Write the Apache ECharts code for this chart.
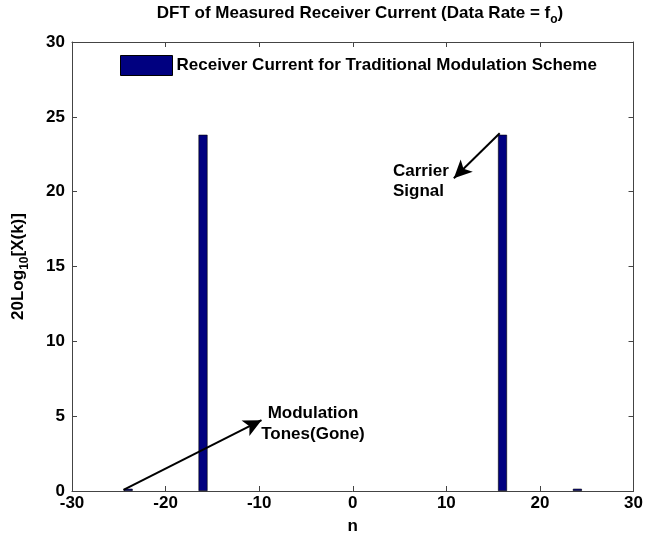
<!DOCTYPE html>
<html>
<head>
<meta charset="utf-8">
<script src="https://cdn.jsdelivr.net/npm/echarts@6/dist/echarts.min.js"></script>
<style>html,body{margin:0;padding:0;background:#fff;}#c{width:646px;height:540px;}</style>
</head>
<body>
<div id="c"></div>
<script>
// ---- data ----
const nValues = [-24, -16, 16, 24];
const magnitudes = [0.15, 23.8, 23.8, 0.15];
const xTicks = [-30, -20, -10, 0, 10, 20, 30];
const yTicks = [0, 5, 10, 15, 20, 25, 30];
const seriesName = 'Receiver Current for Traditional Modulation Scheme';
// annotation positions (data coordinates)
const carrierArrow = [[15.7, 23.9], [10.8, 20.9]];
const modulationArrow = [[-24.5, 0.07], [-9.75, 4.73]];
const carrierTextPos = [4.3, 20.7];
const modulationTextPos = [-4.25, 4.52];

const FONT = 'Liberation Sans';
const FS = 17;
const chart = echarts.init(document.getElementById('c'));
const axisLineStyle = { color: '#444', width: 1 };
const tickCommon = { show: true, inside: true, length: 5, lineStyle: axisLineStyle };
const labelStyle = { color: '#000', fontFamily: FONT, fontWeight: 'bold', fontSize: FS };
const richSub = {
  a: { fontFamily: FONT, fontWeight: 'bold', fontSize: FS, color: '#000', verticalAlign: 'top', lineHeight: 21 },
  s: { fontFamily: FONT, fontWeight: 'bold', fontSize: 12, color: '#000', verticalAlign: 'bottom', lineHeight: 21 }
};
const annLabel = { color: '#000', fontFamily: FONT, fontWeight: 'bold', fontSize: FS, opacity: 1 };

chart.setOption({
  backgroundColor: '#fff',
  animation: false,
  title: {
    text: '{a|DFT of Measured Receiver Current (Data Rate = f}{s|o}{a|)}',
    left: 355, textAlign: 'center', top: 0,
    textStyle: { rich: richSub }
  },
  legend: {
    data: [seriesName],
    left: 115, top: 50,
    itemWidth: 52, itemHeight: 20,
    icon: 'rect',
    itemStyle: { color: '#000080', borderColor: '#000', borderWidth: 1 },
    textStyle: { color: '#000', fontFamily: FONT, fontWeight: 'bold', fontSize: FS, padding: [0, 0, 0, -1] }
  },
  grid: { left: 72, right: 8, top: 42, bottom: 48, containLabel: false },
  xAxis: [{
    type: 'value', min: xTicks[0], max: xTicks[xTicks.length - 1], interval: 10,
    position: 'bottom',
    name: 'n', nameLocation: 'middle', nameGap: 27,
    nameTextStyle: labelStyle,
    axisLine: { show: true, onZero: false, lineStyle: axisLineStyle },
    axisTick: tickCommon,
    axisLabel: Object.assign({ margin: 4 }, labelStyle),
    splitLine: { show: false }
  }, {
    type: 'value', min: xTicks[0], max: xTicks[xTicks.length - 1], interval: 10,
    position: 'top',
    axisLine: { show: true, onZero: false, lineStyle: axisLineStyle },
    axisTick: tickCommon,
    axisLabel: { show: false },
    splitLine: { show: false }
  }],
  yAxis: [{
    type: 'value', min: yTicks[0], max: yTicks[yTicks.length - 1], interval: 5,
    position: 'left',
    name: '{a|20Log}{s|10}{a|[X(k)]}', nameLocation: 'middle', nameGap: 41,
    nameTextStyle: { rich: richSub },
    axisLine: { show: true, onZero: false, lineStyle: axisLineStyle },
    axisTick: tickCommon,
    axisLabel: Object.assign({ margin: 7 }, labelStyle),
    splitLine: { show: false }
  }, {
    type: 'value', min: yTicks[0], max: yTicks[yTicks.length - 1], interval: 5,
    position: 'right',
    axisLine: { show: true, onZero: false, lineStyle: axisLineStyle },
    axisTick: tickCommon,
    axisLabel: { show: false },
    splitLine: { show: false }
  }],
  series: [{
    name: seriesName,
    type: 'bar',
    xAxisIndex: 0, yAxisIndex: 0,
    barWidth: 9,
    itemStyle: { color: '#000080', borderColor: '#000', borderWidth: 0.6 },
    data: nValues.map((n, i) => [n, magnitudes[i]]),
    markLine: {
      silent: true,
      symbol: ['none', 'arrow'],
      symbolSize: [13, 18],
      label: { show: false },
      lineStyle: { color: '#000', width: 2, type: 'solid', opacity: 1 },
      data: [
        [{ coord: carrierArrow[0] }, { coord: carrierArrow[1] }],
        [{ coord: modulationArrow[0] }, { coord: modulationArrow[1] }]
      ]
    }
  }, {
    type: 'scatter',
    xAxisIndex: 0, yAxisIndex: 0,
    symbolSize: 0,
    silent: true,
    itemStyle: { opacity: 1 },
    data: [
      { value: carrierTextPos, label: Object.assign({ show: true, position: 'right', distance: 0, align: 'left', formatter: 'Carrier\nSignal', lineHeight: 20 }, annLabel) },
      { value: modulationTextPos, label: Object.assign({ show: true, position: 'inside', align: 'center', formatter: 'Modulation\nTones(Gone)', lineHeight: 21 }, annLabel) }
    ]
  }]
});
</script>
</body>
</html>
